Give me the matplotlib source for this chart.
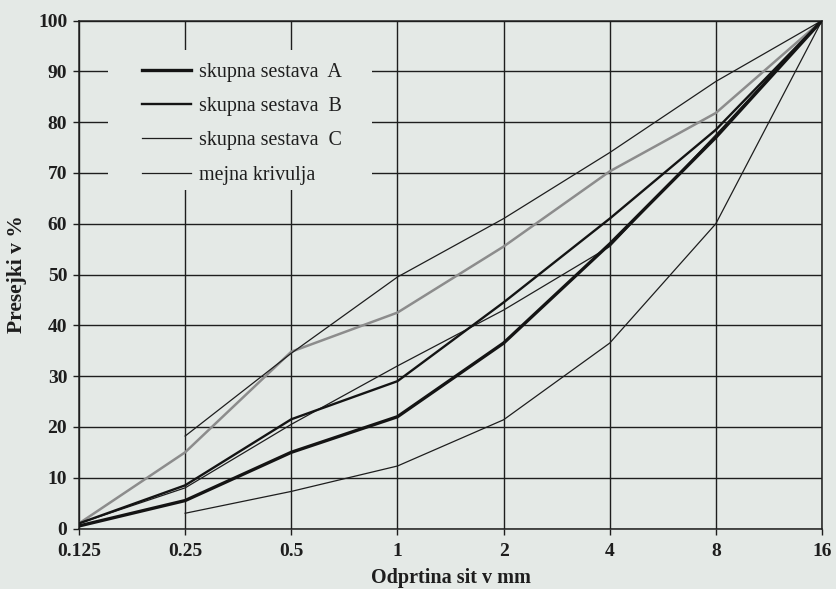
import matplotlib
matplotlib.use("Agg")
import matplotlib.pyplot as plt
from matplotlib.patches import Rectangle
from matplotlib.lines import Line2D
from matplotlib.ticker import FixedLocator, FixedFormatter, NullLocator

# Data
sieves = [0.125, 0.25, 0.5, 1, 2, 4, 8, 16]
sieve_labels = ["0.125", "0.25", "0.5", "1", "2", "4", "8", "16"]

mix_A = [0.5, 5.5, 15.0, 22.0, 36.5, 56.0, 77.0, 100.0]
mix_B = [1.0, 8.5, 21.5, 29.0, 44.5, 61.0, 78.5, 100.0]
mix_C = [1.0, 8.0, 20.5, 32.0, 43.0, 55.5, 77.5, 100.0]
mix_gray = [1.0, 15.0, 34.8, 42.5, 55.5, 70.3, 81.8, 100.0]

limit_sieves = [0.25, 0.5, 1, 2, 4, 8, 16]
limit_upper = [18.2, 34.5, 49.5, 61.0, 74.0, 88.0, 100.0]
limit_lower = [3.0, 7.3, 12.3, 21.4, 36.5, 60.0, 100.0]

yticks = [0, 10, 20, 30, 40, 50, 60, 70, 80, 90, 100]

BG = "#e4e9e6"
INK = "#1e1e1e"
plt.rcParams["font.family"] = ["Liberation Serif", "DejaVu Serif"]

fig = plt.figure(figsize=(8.36, 5.89), dpi=100, facecolor=BG)
ax = fig.add_axes([79 / 836, 1 - 528.5 / 589, (822 - 79) / 836, (528.5 - 20.5) / 589])
ax.set_facecolor(BG)

ax.set_xscale("log", base=2)
ax.set_xlim(0.125, 16)
ax.set_ylim(0, 100)

ax.xaxis.set_major_locator(FixedLocator(sieves))
ax.xaxis.set_major_formatter(FixedFormatter(sieve_labels))
ax.xaxis.set_minor_locator(NullLocator())
ax.yaxis.set_major_locator(FixedLocator(yticks))
ax.yaxis.set_minor_locator(NullLocator())

ax.set_axisbelow(True)
ax.grid(True, color=INK, linewidth=1.0)
for s in ax.spines.values():
    s.set_color(INK)
    s.set_linewidth(1.1)

ax.tick_params(axis="both", direction="out", length=4.5, width=1.0, color=INK,
               labelsize=14, labelcolor=INK)
ax.tick_params(axis="x", pad=6)
ax.tick_params(axis="y", pad=4)
for lab in ax.get_xticklabels() + ax.get_yticklabels():
    lab.set_fontweight("bold")

# blank area behind the legend (gridlines are interrupted there)
ax.add_patch(Rectangle((108 / 836, 1 - 190 / 589), (372 - 108) / 836, (190 - 50) / 589,
                       transform=fig.transFigure, facecolor=BG, edgecolor="none",
                       zorder=1.5, clip_on=False))

ax.plot(sieves, mix_gray, color="#8c8c8c", linewidth=1.8, zorder=2)
ax.plot(limit_sieves, limit_upper, color=INK, linewidth=0.9, zorder=2.2)
ax.plot(limit_sieves, limit_lower, color=INK, linewidth=0.9, zorder=2.2)
lA, = ax.plot(sieves, mix_A, color="#141414", linewidth=2.4, zorder=3, label="skupna sestava  A")
lB, = ax.plot(sieves, mix_B, color="#141414", linewidth=1.7, zorder=3, label="skupna sestava  B")
lC, = ax.plot(sieves, mix_C, color=INK, linewidth=0.9, zorder=2.5, label="skupna sestava  C")
lM = Line2D([], [], color=INK, linewidth=0.9, label="mejna krivulja")

leg = ax.legend(handles=[lA, lB, lC, lM], loc="upper left",
                bbox_to_anchor=(132 / 836, 1 - 53 / 589), bbox_transform=fig.transFigure,
                frameon=False, fontsize=14.4, handlelength=2.45, handletextpad=0.4,
                labelspacing=0.76, borderpad=0.0)
for t in leg.get_texts():
    t.set_color(INK)

ax.set_xlabel("Odprtina sit v mm", fontsize=14.5, fontweight="bold", color=INK, labelpad=6)
ax.set_ylabel("Presejki v %", fontsize=15.5, fontweight="bold", color=INK, labelpad=8)

fig.savefig("out.png", dpi=100, facecolor=BG)
